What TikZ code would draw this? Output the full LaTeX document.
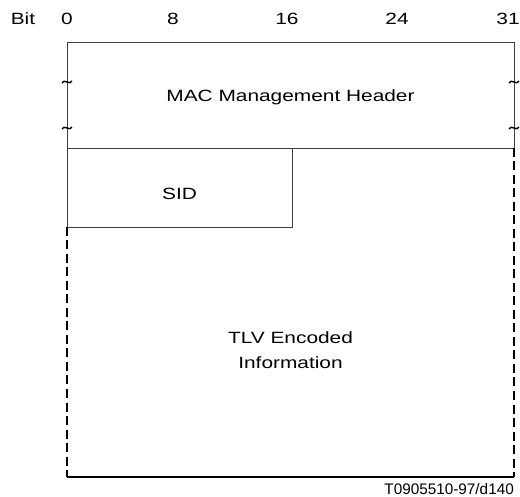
\documentclass[tikz,border=0pt]{standalone}
\usepackage{fontspec}
\setmainfont{Liberation Sans}
\newfontfamily\widefont[FakeStretch=1.28]{Liberation Sans}
\begin{document}
\begin{tikzpicture}[x=1pt,y=-1pt,
  thinline/.style={line width=0.9pt, black!75},
  thickdash/.style={line width=2pt, dash pattern=on 9pt off 4.5pt},
  thickline/.style={line width=2pt},
  lbl/.style={font=\widefont\fontsize{16.3}{24.5}\selectfont, inner sep=0pt},
  tilde/.style={line width=1.4pt},
  ref/.style={font=\fontsize{15.3}{18}\selectfont, inner sep=0pt, anchor=east}]
\useasboundingbox (0,0) rectangle (520,497);
% bit ruler
\node[lbl] (bit) at (23,19) {Bit};
\node[lbl] (b0) at (67,19) {0};
\node[lbl] (b8) at (173,19) {8};
\node[lbl] (b16) at (287,19) {16};
\node[lbl] (b24) at (397,19) {24};
\node[lbl] (b31) at (508,19) {31};
% coordinates
\coordinate (tl) at (67,42);
\coordinate (tr) at (514,42);
\coordinate (ml) at (67,148);
\coordinate (mr) at (514,148);
\coordinate (sr) at (292,148);
\coordinate (sbl) at (67,227);
\coordinate (sbr) at (292,227);
\coordinate (bl) at (67,477);
\coordinate (br) at (514,477);
% header box
\draw[thinline] (ml) -- (tl) -- (tr) -- (mr) -- cycle;
\node[lbl] (mac) at (290.5,97) {MAC Management Header};
% tildes
\foreach \xx/\yy in {67/82, 67/128, 514/82, 514/128}{
  \draw[tilde] (\xx-5,\yy+1) .. controls (\xx-3,\yy-4) and (\xx+3,\yy+4) .. (\xx+5,\yy-1);
}
% SID box
\draw[thinline] (ml) -- (sbl) -- (sbr) -- (sr);
\node[lbl] (sid) at (179.5,194) {SID};
% TLV region
\draw[thickdash] (sbl) -- (bl);
\draw[thickdash] (mr) -- (br);
\draw[thickline] (bl) -- (br);
\node[lbl, align=center] (tlv) at (290.5,350) {TLV Encoded\\Information};
\node[ref] (refid) at (514,489) {T0905510-97/d140};
\end{tikzpicture}
\end{document}
